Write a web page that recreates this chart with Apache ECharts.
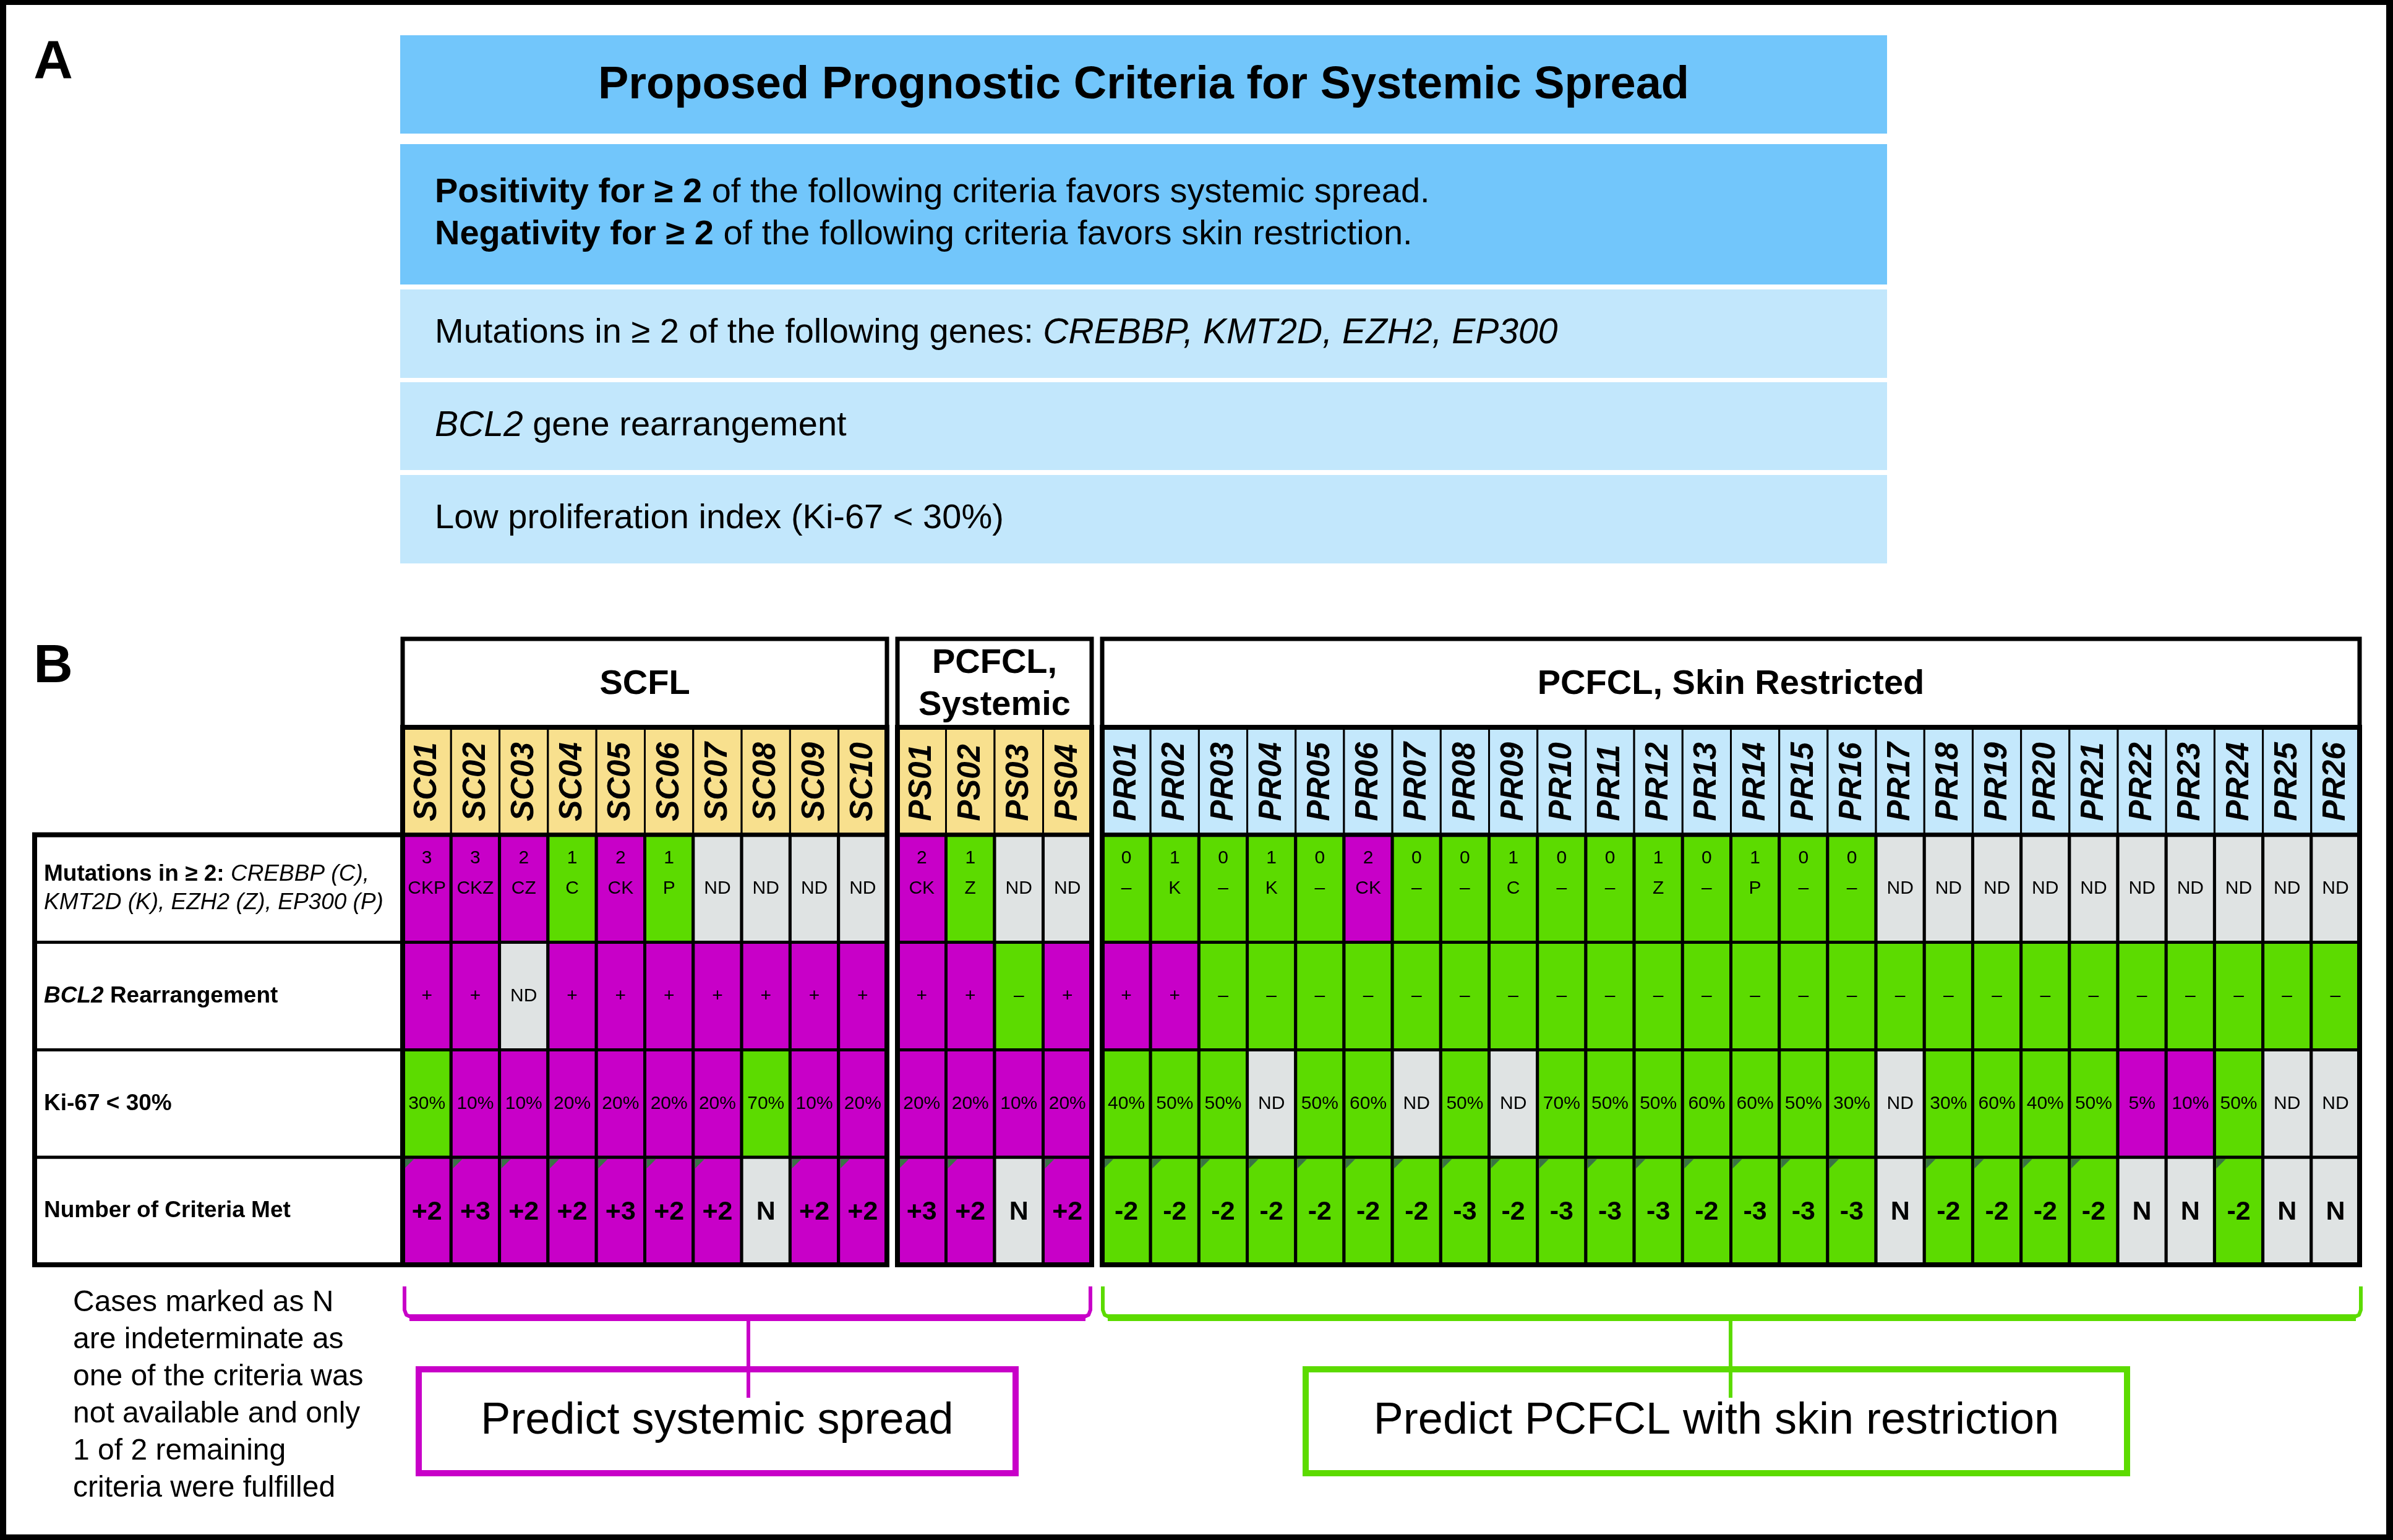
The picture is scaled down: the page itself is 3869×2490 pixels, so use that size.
<!DOCTYPE html>
<html><head><meta charset="utf-8">
<script src="https://cdn.jsdelivr.net/npm/echarts@6/dist/echarts.min.js"></script>
<style>html,body{margin:0;padding:0;background:#fff}#c{width:3869px;height:2490px}</style>
</head><body><div id="c"></div>
<script>
// ---------------- DATA ----------------
const scIds = ['SC01','SC02','SC03','SC04','SC05','SC06','SC07','SC08','SC09','SC10'];
const psIds = ['PS01','PS02','PS03','PS04'];
const prIds = ['PR01','PR02','PR03','PR04','PR05','PR06','PR07','PR08','PR09','PR10','PR11','PR12','PR13',
               'PR14','PR15','PR16','PR17','PR18','PR19','PR20','PR21','PR22','PR23','PR24','PR25','PR26'];

const scMutCount = [3,3,2,1,2,1,null,null,null,null];
const scMutGenes = ['CKP','CKZ','CZ','C','CK','P','ND','ND','ND','ND'];
const scBcl2     = ['+','+','ND','+','+','+','+','+','+','+'];
const scKi67     = [30,10,10,20,20,20,20,70,10,20];
const scScore    = ['+2','+3','+2','+2','+3','+2','+2','N','+2','+2'];

const psMutCount = [2,1,null,null];
const psMutGenes = ['CK','Z','ND','ND'];
const psBcl2     = ['+','+','–','+'];
const psKi67     = [20,20,10,20];
const psScore    = ['+3','+2','N','+2'];

const prMutCount = [0,1,0,1,0,2,0,0,1,0,0,1,0,1,0,0,null,null,null,null,null,null,null,null,null,null];
const prMutGenes = ['–','K','–','K','–','CK','–','–','C','–','–','Z','–','P','–','–','ND','ND','ND','ND','ND','ND','ND','ND','ND','ND'];
const prBcl2     = ['+','+','–','–','–','–','–','–','–','–','–','–','–','–','–','–','–','–','–','–','–','–','–','–','–','–'];
const prKi67     = [40,50,50,null,50,60,null,50,null,70,50,50,60,60,50,30,null,30,60,40,50,5,10,50,null,null];
const prScore    = ['-2','-2','-2','-2','-2','-2','-2','-3','-2','-3','-3','-3','-2','-3','-3','-3','N','-2','-2','-2','-2','N','N','-2','N','N'];

const rowKeys = ['Sample','Mutations','BCL2','Ki67','Score'];
const rowLabels = ['',
  '{b|Mutations in ≥ 2:}{i| CREBBP (C),}\n{i|KMT2D (K), EZH2 (Z), EP300 (P)}',
  '{bi|BCL2}{b| Rearrangement}',
  '{b|Ki-67 < 30%}',
  '{b|Number of Criteria Met}'];
const groupTitles = ['SCFL','PCFCL,\nSystemic','PCFCL, Skin Restricted'];

const panelATitle = 'Proposed Prognostic Criteria for Systemic Spread';
const panelAIntro = ['{b|Positivity for ≥ 2} of the following criteria favors systemic spread.',
                     '{b|Negativity for ≥ 2} of the following criteria favors skin restriction.'];
const panelACriteria = ['Mutations in ≥ 2 of the following genes: {i|CREBBP, KMT2D, EZH2, EP300}',
                        '{i|BCL2} gene rearrangement',
                        'Low proliferation index (Ki-67 < 30%)'];
const footnote = 'Cases marked as N\nare indeterminate as\none of the criteria was\nnot available and only\n1 of 2 remaining\ncriteria were fulfilled';
const predictSystemic = 'Predict systemic spread';
const predictSkin = 'Predict PCFCL with skin restriction';

// ---------------- STYLE / LAYOUT ----------------
const FONT = '"Liberation Sans", Arial, Helvetica, sans-serif';
const MAG = '#C800C8', GRN = '#5CDB00', GRY = '#DFE3E3', TRI = '#3A7445';
const YEL = '#F8E08E', LBL = '#C4E8FC';
const BLUE_D = '#72C6FB', BLUE_L = '#C2E7FC';
const TOP = 1176, BOT = 2045, HEAD_TOP = 1033;

const groups = [
  {ids: scIds, mc: scMutCount, mg: scMutGenes, bcl: scBcl2, ki: scKi67, sc: scScore, head: YEL, left: 651, right: 1434, title: groupTitles[0]},
  {ids: psIds, mc: psMutCount, mg: psMutGenes, bcl: psBcl2, ki: psKi67, sc: psScore, head: YEL, left: 1451, right: 1765, title: groupTitles[1]},
  {ids: prIds, mc: prMutCount, mg: prMutGenes, bcl: prBcl2, ki: prKi67, sc: prScore, head: LBL, left: 1782, right: 3815, title: groupTitles[2]}
];

const mutColor = c => c == null ? GRY : (c >= 2 ? MAG : GRN);
const bclColor = v => v === '+' ? MAG : (v === 'ND' ? GRY : GRN);
const kiColor = v => v == null ? GRY : (v < 30 ? MAG : GRN);
const scoreColor = s => s === 'N' ? GRY : (s[0] === '+' ? MAG : GRN);

function txt(x, y, text, size, extra) {
  return Object.assign({type: 'text', x: x, y: y, style: Object.assign({
    text: text, fill: '#000', fontSize: size, fontFamily: FONT, align: 'center', verticalAlign: 'middle'}, extra || {})});
}

function renderCell(g, i, r, api) {
  const c = api.coord([i, r]);
  const s = api.size([1, 1]);
  const w = s[0], h = s[1];
  const x0 = c[0] - w / 2, y0 = c[1] - h / 2;
  const ch = [];
  if (r === 0) {
    ch.push({type: 'rect', shape: {x: x0, y: y0, width: w, height: h}, style: {fill: g.head, stroke: '#000', lineWidth: 3}});
    ch.push({type: 'text', x: c[0] + 1, y: y0 + h - 22, rotation: Math.PI / 2,
      style: {text: g.ids[i], fill: '#000', fontSize: 51, fontWeight: 'bold', fontStyle: 'italic', fontFamily: FONT, align: 'left', verticalAlign: 'middle'}});
  } else if (r === 1) {
    const cnt = g.mc[i];
    ch.push({type: 'rect', shape: {x: x0, y: y0, width: w, height: h}, style: {fill: mutColor(cnt), stroke: '#000', lineWidth: 5}});
    if (cnt != null) ch.push(txt(c[0], c[1] - 49, String(cnt), 30));
    ch.push(txt(c[0], c[1], g.mg[i], 30));
  } else if (r === 2) {
    ch.push({type: 'rect', shape: {x: x0, y: y0, width: w, height: h}, style: {fill: bclColor(g.bcl[i]), stroke: '#000', lineWidth: 5}});
    ch.push(txt(c[0], c[1], g.bcl[i], 30));
  } else if (r === 3) {
    const v = g.ki[i];
    ch.push({type: 'rect', shape: {x: x0, y: y0, width: w, height: h}, style: {fill: kiColor(v), stroke: '#000', lineWidth: 5}});
    ch.push(txt(c[0], c[1], v == null ? 'ND' : v + '%', 30));
  } else {
    const sv = g.sc[i];
    ch.push({type: 'rect', shape: {x: x0, y: y0, width: w, height: h}, style: {fill: scoreColor(sv), stroke: '#000', lineWidth: 5}});
    if (sv !== 'N') ch.push({type: 'polygon', shape: {points: [[x0 + 3, y0 + 3], [x0 + 18, y0 + 3], [x0 + 3, y0 + 18]]}, style: {fill: TRI}});
    ch.push(txt(c[0], c[1] + 2, sv, 43, {fontWeight: 'bold'}));
  }
  return {type: 'group', children: ch};
}

function renderFrame(g, params) {
  const cs = params.coordSys;
  const rowH = cs.height / 5;
  return {type: 'group', children: [
    {type: 'rect', shape: {x: cs.x, y: HEAD_TOP, width: cs.width, height: cs.y - HEAD_TOP}, style: {fill: '#fff', stroke: '#000', lineWidth: 7}},
    txt(cs.x + cs.width / 2, (HEAD_TOP + cs.y) / 2 + 2, g.title, 56, {fontWeight: 'bold', lineHeight: 68}),
    {type: 'rect', shape: {x: cs.x, y: cs.y, width: cs.width, height: cs.height}, style: {fill: null, stroke: '#000', lineWidth: 8}},
    {type: 'line', shape: {x1: cs.x, y1: cs.y + rowH, x2: cs.x + cs.width, y2: cs.y + rowH}, style: {stroke: '#000', lineWidth: 7}}
  ]};
}

const grids = [], xAxes = [], yAxes = [], series = [];
// label grid (index 0)
grids.push({left: 56, top: TOP, width: 651 - 56, height: BOT - TOP});
xAxes.push({type: 'category', gridIndex: 0, data: ['label'], show: false});
yAxes.push({type: 'category', gridIndex: 0, data: rowKeys, inverse: true, show: false});
series.push({type: 'custom', coordinateSystem: 'cartesian2d', xAxisIndex: 0, yAxisIndex: 0, silent: true, z: 2,
  encode: {x: 0, y: 1}, data: [[0, 1], [0, 2], [0, 3], [0, 4]],
  renderItem: function (params, api) {
    const r = api.value(1);
    const c = api.coord([0, r]); const s = api.size([1, 1]);
    const x0 = c[0] - s[0] / 2, y0 = c[1] - s[1] / 2;
    return {type: 'group', children: [
      {type: 'rect', shape: {x: x0, y: y0, width: s[0], height: s[1]}, style: {fill: '#fff', stroke: '#000', lineWidth: 5}},
      {type: 'text', x: x0 + 15, y: c[1], style: {text: rowLabels[r], fill: '#000', fontSize: 37, fontFamily: FONT, align: 'left', verticalAlign: 'middle', lineHeight: 46,
        rich: {b: {fontWeight: 'bold', fontSize: 37, fontFamily: FONT, lineHeight: 46},
               i: {fontStyle: 'italic', fontSize: 37, fontFamily: FONT, lineHeight: 46},
               bi: {fontWeight: 'bold', fontStyle: 'italic', fontSize: 37, fontFamily: FONT, lineHeight: 46}}}}
    ]};
  }});
series.push({type: 'custom', coordinateSystem: 'cartesian2d', xAxisIndex: 0, yAxisIndex: 0, silent: true, z: 3,
  encode: {x: 0, y: 1}, data: [[0, 0]],
  renderItem: function (params) {
    const cs = params.coordSys; const rowH = cs.height / 5;
    return {type: 'rect', shape: {x: cs.x, y: cs.y + rowH, width: cs.width, height: cs.height - rowH}, style: {fill: null, stroke: '#000', lineWidth: 8}};
  }});

groups.forEach(function (g, k) {
  const gi = k + 1;
  grids.push({left: g.left, top: TOP, width: g.right - g.left, height: BOT - TOP});
  xAxes.push({type: 'category', gridIndex: gi, data: g.ids, show: false});
  yAxes.push({type: 'category', gridIndex: gi, data: rowKeys, inverse: true, show: false});
  const data = [];
  for (let i = 0; i < g.ids.length; i++) for (let r = 0; r < 5; r++) data.push([i, r]);
  series.push({type: 'custom', coordinateSystem: 'cartesian2d', xAxisIndex: gi, yAxisIndex: gi, silent: true, z: 2,
    encode: {x: 0, y: 1}, data: data,
    renderItem: function (params, api) { return renderCell(g, api.value(0), api.value(1), api); }});
  series.push({type: 'custom', coordinateSystem: 'cartesian2d', xAxisIndex: gi, yAxisIndex: gi, silent: true, z: 3,
    encode: {x: 0, y: 1}, data: [[0, 0]],
    renderItem: function (params) { return renderFrame(g, params); }});
});

// ---------------- decorations (panel A, frame, brackets) ----------------
const graphic = [];
graphic.push({type: 'rect', shape: {x: 0, y: 0, width: 3869, height: 8}, style: {fill: '#000'}});
graphic.push({type: 'rect', shape: {x: 0, y: 0, width: 10, height: 2490}, style: {fill: '#000'}});
graphic.push({type: 'rect', shape: {x: 3858, y: 0, width: 11, height: 2490}, style: {fill: '#000'}});
graphic.push({type: 'rect', shape: {x: 0, y: 2481, width: 3869, height: 9}, style: {fill: '#000'}});
graphic.push({type: 'text', x: 86, y: 102, style: {text: 'A', fontSize: 88, fontWeight: 'bold', fontFamily: FONT, fill: '#000', align: 'center', verticalAlign: 'middle'}});
graphic.push({type: 'text', x: 86, y: 1079, style: {text: 'B', fontSize: 88, fontWeight: 'bold', fontFamily: FONT, fill: '#000', align: 'center', verticalAlign: 'middle'}});
const boxA = [[57, 159, BLUE_D], [233, 227, BLUE_D], [468, 143, BLUE_L], [618, 142, BLUE_L], [768, 143, BLUE_L]];
boxA.forEach(function (b) { graphic.push({type: 'rect', shape: {x: 647, y: b[0], width: 2404, height: b[1]}, style: {fill: b[2]}}); });
graphic.push({type: 'text', x: 1849, y: 139, style: {text: panelATitle, fontSize: 74, fontWeight: 'bold', fontFamily: FONT, fill: '#000', align: 'center', verticalAlign: 'middle'}});
const richA = {b: {fontWeight: 'bold', fontSize: 56, fontFamily: FONT}, i: {fontStyle: 'italic', fontSize: 57, fontFamily: FONT}};
[[panelAIntro[0], 312], [panelAIntro[1], 380], [panelACriteria[0], 539], [panelACriteria[1], 689], [panelACriteria[2], 839]].forEach(function (t) {
  graphic.push({type: 'text', x: 703, y: t[1], style: {text: t[0], rich: richA, fontSize: 56, fontFamily: FONT, fill: '#000', align: 'left', verticalAlign: 'middle'}});
});
graphic.push({type: 'text', x: 118, y: 2077, style: {text: footnote, fontSize: 48, fontFamily: FONT, fill: '#000', align: 'left', verticalAlign: 'top', lineHeight: 60}});

function bracket(L, R, stemX, boxL, boxR, color, label) {
  const yTop = 2080, yBar = 2130;
  graphic.push({type: 'polyline', shape: {points: [[L, yTop], [L, yBar - 12], [L + 3, yBar - 4], [L + 12, yBar], [R - 12, yBar], [R - 3, yBar - 4], [R, yBar - 12], [R, yTop]]},
    style: {stroke: color, lineWidth: 6, fill: null, lineJoin: 'round'}});
  graphic.push({type: 'rect', shape: {x: L + 8, y: yBar - 5, width: R - L - 16, height: 11}, style: {fill: color}});
  graphic.push({type: 'rect', shape: {x: boxL + 5, y: 2214, width: boxR - boxL - 10, height: 168}, style: {fill: '#fff', stroke: color, lineWidth: 10}});
  graphic.push({type: 'line', shape: {x1: stemX, y1: yBar, x2: stemX, y2: 2260}, style: {stroke: color, lineWidth: 6}});
  graphic.push({type: 'text', x: (boxL + boxR) / 2, y: 2298, style: {text: label, fontSize: 72, fontFamily: FONT, fill: '#000', align: 'center', verticalAlign: 'middle'}});
}
bracket(groups[0].left + 3, groups[1].right - 2, 1210, 672, 1647, MAG, predictSystemic);
bracket(groups[2].left + 1, groups[2].right + 2, 2798, 2106, 3444, GRN, predictSkin);

const chart = echarts.init(document.getElementById('c'), null, {renderer: 'canvas'});
chart.setOption({
  animation: false,
  backgroundColor: '#fff',
  grid: grids, xAxis: xAxes, yAxis: yAxes, series: series,
  graphic: graphic
});
</script></body></html>
